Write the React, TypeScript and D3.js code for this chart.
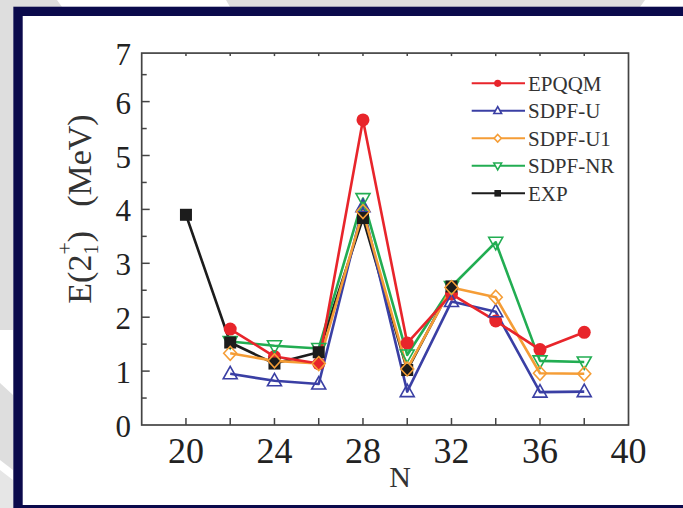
import React from "react";
import * as d3 from "d3";

const W = 683;
const H = 508;

const nValues = [20, 22, 24, 26, 28, 30, 32, 34, 36, 38];
const expValues = [3.9, 1.53, 1.14, 1.35, 3.84, 1.02, 2.57, null, null, null];
const epqqmValues = [null, 1.78, 1.27, 1.14, 5.66, 1.52, 2.43, 1.93, 1.4, 1.72];
const sdpfUValues = [null, 0.95, 0.82, 0.76, 4.05, 0.62, 2.29, 2.1, 0.61, 0.62];
const sdpfU1Values = [null, 1.33, 1.19, 1.14, 3.96, 1.04, 2.55, 2.37, 0.96, 0.95];
const sdpfNRValues = [null, 1.55, 1.47, 1.42, 4.2, 1.3, 2.57, 3.39, 1.19, 1.17];

const xTickLabels = [20, 24, 28, 32, 36, 40];
const xMinorTicks = [20, 22, 24, 26, 28, 30, 32, 34, 36, 38];
const yTickLabels = [0, 1, 2, 3, 4, 5, 6, 7];
const yMinorTicks = [0.5, 1.5, 2.5, 3.5, 4.5, 5.5, 6.5];

type Shape = "circle" | "tri" | "diamond" | "tridown" | "square";
const seriesDefs: { name: string; values: (number | null)[]; color: string; shape: Shape }[] = [
  { name: "EPQQM", values: epqqmValues, color: "#e8252b", shape: "circle" },
  { name: "SDPF-U", values: sdpfUValues, color: "#3a3fa4", shape: "tri" },
  { name: "SDPF-U1", values: sdpfU1Values, color: "#f59d36", shape: "diamond" },
  { name: "SDPF-NR", values: sdpfNRValues, color: "#22ad52", shape: "tridown" },
  { name: "EXP", values: expValues, color: "#1c1c1c", shape: "square" },
];

const lineOrder = ["EXP", "SDPF-U", "SDPF-NR", "SDPF-U1", "EPQQM"];
const markerOrder = ["EPQQM", "SDPF-U", "SDPF-NR", "EXP", "SDPF-U1"];

const plotL = 141.7;
const plotR = 628.5;
const plotB = 425;
const yTop = 6.9;
const pxPerUnit = 53.9;

const x = d3.scaleLinear().domain([18, 40]).range([plotL, plotR]);
const y = d3.scaleLinear().domain([0, yTop]).range([plotB, plotB - yTop * pxPerUnit]);
const plotT = y(yTop);

function Marker({ shape, color, cx, cy, s }: { shape: Shape; color: string; cx: number; cy: number; s: number }) {
  const sw = 1.6;
  if (shape === "circle") return <circle cx={cx} cy={cy} r={6.5 * s} fill={color} />;
  if (shape === "square")
    return <rect x={cx - 6 * s} y={cy - 6 * s} width={12 * s} height={12 * s} fill={color} />;
  let pts: [number, number][] = [];
  if (shape === "tri") pts = [[0, -7.5], [7, 5], [-7, 5]];
  if (shape === "tridown") pts = [[0, 7.5], [7, -5], [-7, -5]];
  if (shape === "diamond") pts = [[0, -7], [6.5, 0], [0, 7], [-6.5, 0]];
  const d = "M" + pts.map(([a, b]) => `${cx + a * s},${cy + b * s}`).join("L") + "Z";
  return <path d={d} fill={s < 1 ? "#fff" : "none"} stroke={color} strokeWidth={sw} />;
}

export default function App() {
  const line = d3
    .line<[number, number | null]>()
    .defined((d) => d[1] !== null)
    .x((d) => x(d[0]))
    .y((d) => y(d[1] as number));

  const byName = (n: string) => seriesDefs.find((s) => s.name === n)!;
  const serif = "'Liberation Serif', 'Times New Roman', serif";
  const axisColor = "#444";

  return (
    <div style={{ position: "absolute", left: 0, top: 0, width: W, height: H }}>
      <svg width={W} height={H} style={{ display: "block" }}>
        {/* background */}
        <rect x={0} y={0} width={W} height={H} fill="#ffffff" />
        <polygon points="0,0 57,0 62,7 13,7 13,330 0,330" fill="#dedede" />
        <polygon points="226,0 645,0 640,7 230,7" fill="#dedede" />
        <polygon points="0,383 13,395 13,470 0,460" fill="#dedede" />
        <polygon points="0,470 13,480 13,508 0,508" fill="#e6e6e6" />
        {/* navy frame */}
        <rect x={13.3} y={6.7} width={W} height={H} fill="#0b0a4c" />
        <rect x={22.7} y={16} width={W} height={505 - 16} fill="#ffffff" />

        {/* plot frame */}
        <rect x={plotL} y={plotT} width={plotR - plotL} height={plotB - plotT} fill="none" stroke={axisColor} strokeWidth={1.7} />

        {/* x ticks */}
        {xMinorTicks.map((t) => (
          <g key={"xt" + t}>
            <line x1={x(t)} x2={x(t)} y1={plotB} y2={plotB - 7} stroke={axisColor} strokeWidth={1.5} />
            <line x1={x(t)} x2={x(t)} y1={plotT} y2={plotT + 3} stroke={axisColor} strokeWidth={1.5} />
          </g>
        ))}
        {/* y ticks */}
        {yTickLabels
          .filter((t) => t > 0 && t < yTop)
          .map((t) => (
            <line key={"ym" + t} x1={plotL} x2={plotL + 8} y1={y(t)} y2={y(t)} stroke={axisColor} strokeWidth={1.5} />
          ))}
        {yMinorTicks.map((t) => (
          <line key={"yn" + t} x1={plotL} x2={plotL + 5} y1={y(t)} y2={y(t)} stroke={axisColor} strokeWidth={1.5} />
        ))}

        {/* tick labels */}
        {xTickLabels.map((t) => (
          <text key={"xl" + t} x={x(t)} y={463} textAnchor="middle" fontFamily={serif} fontSize={36} fill="#222">
            {t}
          </text>
        ))}
        {yTickLabels.map((t) => (
          <text key={"yl" + t} x={131} y={Math.max(y(t), plotT) + 12} textAnchor="end" fontFamily={serif} fontSize={31} fill="#222">
            {t}
          </text>
        ))}

        {/* axis titles */}
        <text x={400} y={487} textAnchor="middle" fontFamily={serif} fontSize={30} fill="#333">
          N
        </text>
        <g transform="translate(91,209) rotate(-90)">
          <text textAnchor="middle" fontFamily={serif} fontSize={34} fill="#333">
            <tspan>E(2</tspan>
            <tspan fontSize={20} dy={7}>1</tspan>
            <tspan fontSize={22} dx={-10} dy={-26}>+</tspan>
            <tspan dy={19}>)</tspan>
            <tspan dx={24}>(MeV)</tspan>
          </text>
        </g>

        {/* lines */}
        {lineOrder.map((n) => {
          const s = byName(n);
          const pts = nValues.map((v, i) => [v, s.values[i]] as [number, number | null]);
          return <path key={"l" + n} d={line(pts) || ""} fill="none" stroke={s.color} strokeWidth={2.6} strokeLinejoin="round" />;
        })}
        {/* markers */}
        {markerOrder.map((n) => {
          const s = byName(n);
          return (
            <g key={"m" + n}>
              {nValues.map((v, i) =>
                s.values[i] === null ? null : (
                  <Marker key={i} shape={s.shape} color={s.color} cx={x(v)} cy={y(s.values[i] as number)} s={1} />
                )
              )}
            </g>
          );
        })}

        {/* legend */}
        {seriesDefs.map((s, i) => {
          const cy = 83.3 + i * 27.5;
          return (
            <g key={"lg" + s.name}>
              <line x1={471.7} x2={525} y1={cy} y2={cy} stroke={s.color} strokeWidth={2} />
              <Marker shape={s.shape} color={s.color} cx={497.7} cy={cy} s={0.55} />
              <text x={528} y={cy + 7.5} fontFamily={serif} fontSize={21} fill="#333">
                {s.name}
              </text>
            </g>
          );
        })}
      </svg>
    </div>
  );
}
